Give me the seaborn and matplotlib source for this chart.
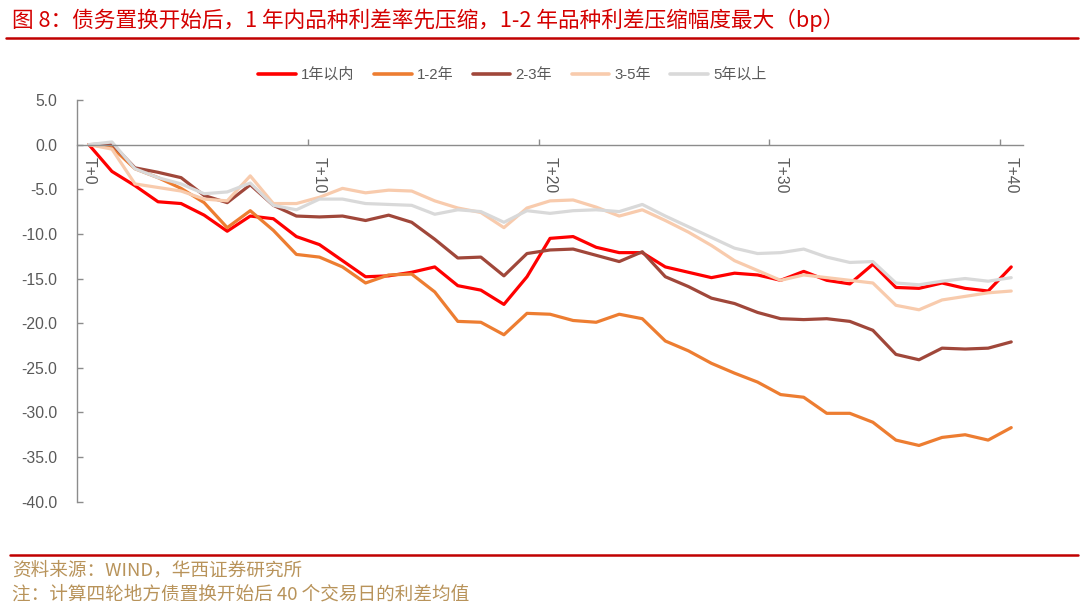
import numpy as np
import pandas as pd
import matplotlib
matplotlib.use("Agg")
import matplotlib.pyplot as plt
from matplotlib.lines import Line2D
from matplotlib.ticker import FixedLocator, NullFormatter
import seaborn as sns

# ---------------- data ----------------
days = list(range(41))
day_labels = ["T+0", "T+10", "T+20", "T+30", "T+40"]
label_days = [0, 10, 20, 30, 40]
series_names = ["1年以内", "1-2年", "2-3年", "3-5年", "5年以上"]

y_within1 = [0, -3.0, -4.6, -6.4, -6.6, -7.9, -9.7, -8.0, -8.3, -10.3,
             -11.2, -13.0, -14.8, -14.7, -14.3, -13.7, -15.8, -16.3, -17.9, -14.8,
             -10.5, -10.3, -11.5, -12.1, -12.1, -13.7, -14.3, -14.9, -14.4, -14.6,
             -15.2, -14.2, -15.2, -15.6, -13.4, -16.0, -16.1, -15.5, -16.1, -16.4,
             -13.7]
y_1to2 = [0, -0.3, -2.7, -3.7, -4.9, -6.5, -9.3, -7.4, -9.6, -12.3,
          -12.6, -13.7, -15.5, -14.6, -14.5, -16.5, -19.8, -19.9, -21.3, -18.9,
          -19.0, -19.7, -19.9, -19.0, -19.5, -22.0, -23.1, -24.5, -25.6, -26.6,
          -28.0, -28.3, -30.1, -30.1, -31.1, -33.1, -33.7, -32.8, -32.5, -33.1,
          -31.7]
y_2to3 = [0, 0.1, -2.6, -3.1, -3.7, -5.7, -6.5, -4.5, -6.8, -8.0,
          -8.1, -8.0, -8.5, -7.9, -8.7, -10.6, -12.7, -12.6, -14.7, -12.2,
          -11.8, -11.7, -12.4, -13.1, -12.0, -14.8, -15.9, -17.2, -17.8, -18.8,
          -19.5, -19.6, -19.5, -19.8, -20.8, -23.5, -24.1, -22.8, -22.9, -22.8,
          -22.1]
y_3to5 = [0, -0.5, -4.4, -4.8, -5.2, -6.1, -6.3, -3.5, -6.6, -6.6,
          -5.9, -4.9, -5.4, -5.1, -5.2, -6.3, -7.1, -7.6, -9.3, -7.1,
          -6.3, -6.2, -7.0, -8.0, -7.3, -8.5, -9.8, -11.3, -13.0, -14.1,
          -15.2, -14.6, -14.9, -15.2, -15.5, -18.0, -18.5, -17.4, -17.0, -16.6,
          -16.4]
y_over5 = [0, 0.3, -2.7, -3.7, -4.4, -5.5, -5.3, -4.3, -6.8, -7.3,
           -6.1, -6.1, -6.6, -6.7, -6.8, -7.8, -7.3, -7.5, -8.7, -7.4,
           -7.7, -7.4, -7.3, -7.5, -6.7, -8.0, -9.2, -10.4, -11.6, -12.2,
           -12.1, -11.7, -12.6, -13.2, -13.1, -15.5, -15.7, -15.3, -15.0, -15.3,
           -14.9]

y_ticks = [5.0, 0.0, -5.0, -10.0, -15.0, -20.0, -25.0, -30.0, -35.0, -40.0]

title_text = "图 8：债务置换开始后，1 年内品种利差率先压缩，1-2 年品种利差压缩幅度最大（bp）"
source_text = "资料来源：WIND，华西证券研究所"
note_text = "注：计算四轮地方债置换开始后 40 个交易日的利差均值"

colors = ["#FF0000", "#ED7D31", "#A0473A", "#F8CBAD", "#D9D9D9"]

# ---------------- build frame ----------------
all_vals = [y_within1, y_1to2, y_2to3, y_3to5, y_over5]
df = pd.concat(
    [pd.DataFrame({"t": days, "value": v, "series": n}) for n, v in zip(series_names, all_vals)],
    ignore_index=True,
)

sns.set_theme(style="white")
fam = ["Liberation Sans", "Noto Sans CJK SC"]
plt.rcParams["font.family"] = fam

fig = plt.figure(figsize=(10.8, 6.09), dpi=100)
ax = fig.add_axes([0.0716, 0.1762, 0.8754, 0.6596])

sns.lineplot(data=df, x="t", y="value", hue="series", hue_order=series_names,
             palette=colors, linewidth=2.3, ax=ax, legend=True)

ax.set_xlim(-0.5, 40.5)
ax.set_ylim(-40, 5)
ax.set_xlabel("")
ax.set_ylabel("")

gray_axis = "#8C8C8C"
text_gray = "#595959"

# spines
for s in ["top", "right"]:
    ax.spines[s].set_visible(False)
ax.spines["left"].set_color(gray_axis)
ax.spines["left"].set_linewidth(1.0)
ax.spines["bottom"].set_position(("data", 0))
ax.spines["bottom"].set_color(gray_axis)
ax.spines["bottom"].set_linewidth(1.0)

# y ticks
ax.set_yticks(y_ticks)
ax.set_yticklabels([f"{v:.1f}" for v in y_ticks])
ax.tick_params(axis="y", direction="in", length=4, width=1, color=gray_axis,
               labelsize=11.3, labelcolor=text_gray, pad=14.5, left=True)

# x ticks: marks between categories, labels at category centres
ax.xaxis.set_major_locator(FixedLocator([9.5, 19.5, 29.5, 39.5]))
ax.xaxis.set_major_formatter(NullFormatter())
ax.tick_params(axis="x", which="major", direction="in", length=4, width=1,
               color=gray_axis, bottom=True)
ax.xaxis.set_minor_locator(FixedLocator(label_days))
ax.set_xticks(label_days, minor=True)
ax.set_xticklabels(day_labels, minor=True, rotation=-90)
ax.tick_params(axis="x", which="minor", length=0, labelsize=11.3,
               labelcolor=text_gray, pad=9)

# legend
handles, labels = ax.get_legend_handles_labels()
ax.get_legend().remove()
leg = ax.legend(handles, labels, loc="center", bbox_to_anchor=(0.4745, 0.877),
                bbox_transform=fig.transFigure, ncol=5, frameon=False,
                fontsize=10.8, handlelength=2.5, handletextpad=0.35,
                columnspacing=1.3)
for txt in leg.get_texts():
    txt.set_color(text_gray)
for ln in leg.get_lines():
    ln.set_linewidth(2.6)

# title and rules
red = "#D40000"
fig.text(0.011, 0.967, title_text, color=red, fontsize=15.6, va="center", ha="left",
         family=["Noto Sans CJK SC", "DejaVu Sans"])
fig.add_artist(Line2D([0.006, 0.998], [0.9384, 0.9384], transform=fig.transFigure,
                      color="#C00000", linewidth=1.8))
fig.add_artist(Line2D([0.009, 0.998], [0.0887, 0.0887], transform=fig.transFigure,
                      color="#C00000", linewidth=1.8))

gold = "#B8935A"
fig.text(0.011, 0.064, source_text, color=gold, fontsize=13.4, va="center", ha="left",
         family=["Noto Sans CJK SC", "DejaVu Sans"])
fig.text(0.011, 0.0246, note_text, color=gold, fontsize=13.4, va="center", ha="left",
         family=["Noto Sans CJK SC", "DejaVu Sans"])

fig.savefig("out.png", dpi=100, facecolor="white")
